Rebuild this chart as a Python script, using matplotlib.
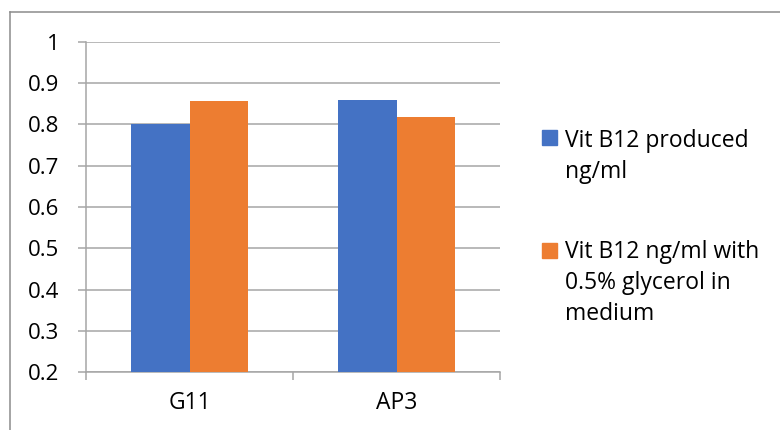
import matplotlib.pyplot as plt
from matplotlib.patches import Rectangle
from matplotlib.lines import Line2D

# strains and measured vitamin B12 (ng/ml)
strains = ["G11", "AP3"]
series_names = [["Vit B12 produced", "ng/ml"],
                ["Vit B12 ng/ml with", "0.5% glycerol in", "medium"]]
produced = [0.80, 0.86]
with_glycerol = [0.856, 0.818]
yticks = [0.2, 0.3, 0.4, 0.5, 0.6, 0.7, 0.8, 0.9, 1.0]
ytick_labels = ["0.2", "0.3", "0.4", "0.5", "0.6", "0.7", "0.8", "0.9", "1"]

BLUE = "#4472C4"
ORANGE = "#ED7D31"
GRID = "#A6A6A6"
FS = 16
LEG_FS = 16.5

plt.rcParams["font.family"] = ["Open Sans", "DejaVu Sans"]

W, H = 780, 430
fig = plt.figure(figsize=(W / 100, H / 100), dpi=100)
ax = fig.add_axes([86 / W, 1 - 372 / H, (500 - 86) / W, (372 - 42) / H])

x = list(range(len(strains)))
bw = 0.285
ax.bar([i - bw / 2 for i in x], produced, width=bw, color=BLUE, zorder=3)
ax.bar([i + bw / 2 for i in x], with_glycerol, width=bw, color=ORANGE, zorder=3)

ax.set_ylim(0.2, 1.0)
ax.set_xlim(-0.5, len(strains) - 0.5)
ax.set_yticks(yticks)
ax.set_yticklabels(ytick_labels)
ax.yaxis.grid(True, color=GRID, lw=1.1, zorder=0)

# category labels centred, tick marks at the category boundaries
ax.set_xticks(x)
ax.set_xticklabels(strains)
ax.set_xticks([i - 0.5 for i in range(len(strains) + 1)], minor=True)
ax.tick_params(axis="x", which="major", length=0, pad=14, labelsize=16.5)
ax.tick_params(axis="x", which="minor", length=6, width=1.1, color=GRID)
ax.tick_params(axis="y", length=6, width=1.1, color=GRID, pad=13, labelsize=FS)

for side in ["top", "right"]:
    ax.spines[side].set_visible(False)
for side in ["left", "bottom"]:
    ax.spines[side].set_color(GRID)
    ax.spines[side].set_linewidth(1.1)

# legend drawn at the right of the plot, marker level with the first text line
legend_rows = [(BLUE, 130, 147), (ORANGE, 243, 258)]
line_step = 31
for (col, ytop, base), lines in zip(legend_rows, series_names):
    fig.patches.append(Rectangle((542 / W, 1 - (ytop + 15) / H), 15 / W, 15 / H,
                                 transform=fig.transFigure, color=col))
    for k, txt in enumerate(lines):
        fig.text(565 / W, 1 - (base + k * line_step) / H, txt, fontsize=LEG_FS,
                 va="baseline", ha="left")

# chart frame
frame = "#8C8C8C"
fig.lines.append(Line2D([10 / W, 1], [1 - 12 / H, 1 - 12 / H], transform=fig.transFigure,
                        color=frame, lw=1.1))
fig.lines.append(Line2D([10 / W, 10 / W], [0, 1 - 12 / H], transform=fig.transFigure,
                        color=frame, lw=1.1))

fig.savefig("out.png", dpi=100)
